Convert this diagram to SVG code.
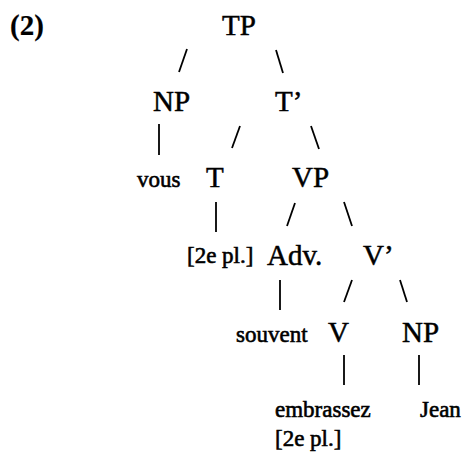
<svg xmlns="http://www.w3.org/2000/svg" width="465" height="457" viewBox="0 0 465 457">
  <style>
    .cat { font-family: "Liberation Serif", "Times New Roman", serif; font-size: 29px; fill: #000; stroke: #000; stroke-width: 0.5; }
    .num { font-weight: bold; stroke-width: 0.2; }
    .word { font-family: "Liberation Serif", "Times New Roman", serif; font-size: 23px; fill: #000; stroke: #000; stroke-width: 0.6; }
    .edge { stroke: #000; stroke-width: 1.8; stroke-linecap: butt; fill: none; }
  </style>
  <rect width="465" height="457" fill="#fff"/>

  <text class="cat num" x="10" y="35">(2)</text>

  <!-- branches -->
  <g id="connectors">
    <line class="edge" x1="187" y1="49" x2="179" y2="72"/>
    <line class="edge" x1="276" y1="50" x2="283" y2="73"/>
    <line class="edge" x1="159" y1="124" x2="159" y2="155"/>
    <line class="edge" x1="240" y1="126" x2="232" y2="148"/>
    <line class="edge" x1="311" y1="126" x2="319" y2="149"/>
    <line class="edge" x1="216" y1="202" x2="216" y2="232"/>
    <line class="edge" x1="295" y1="203" x2="287" y2="226"/>
    <line class="edge" x1="344" y1="202" x2="352" y2="226"/>
    <line class="edge" x1="280" y1="280" x2="280" y2="310"/>
    <line class="edge" x1="352" y1="280" x2="344" y2="302"/>
    <line class="edge" x1="400" y1="280" x2="407" y2="302"/>
    <line class="edge" x1="344" y1="355" x2="344" y2="385"/>
    <line class="edge" x1="419" y1="355" x2="419" y2="385"/>
  </g>

  <g id="TP"><text class="cat" x="222" y="35">TP</text></g>
  <g id="NP1"><text class="cat" x="153" y="111">NP</text></g>
  <g id="Tbar"><text class="cat" x="275" y="111">T’</text></g>
  <g id="vous"><text class="word" x="137" y="187">vous</text></g>
  <g id="T"><text class="cat" x="206" y="187">T</text></g>
  <g id="VP"><text class="cat" x="292" y="187">VP</text></g>
  <g id="Tfeat"><text class="word" x="187" y="263">[2e pl.]</text></g>
  <g id="Adv"><text class="cat" x="267" y="265">Adv.</text></g>
  <g id="Vbar"><text class="cat" x="363" y="265">V’</text></g>
  <g id="souvent"><text class="word" x="236" y="342">souvent</text></g>
  <g id="V"><text class="cat" x="328" y="342">V</text></g>
  <g id="NP2"><text class="cat" x="402" y="342">NP</text></g>
  <g id="embrassez"><text class="word" x="275" y="417">embrassez</text></g>
  <g id="Jean"><text class="word" x="420" y="417">Jean</text></g>
  <g id="Vfeat"><text class="word" x="275" y="446">[2e pl.]</text></g>
</svg>
